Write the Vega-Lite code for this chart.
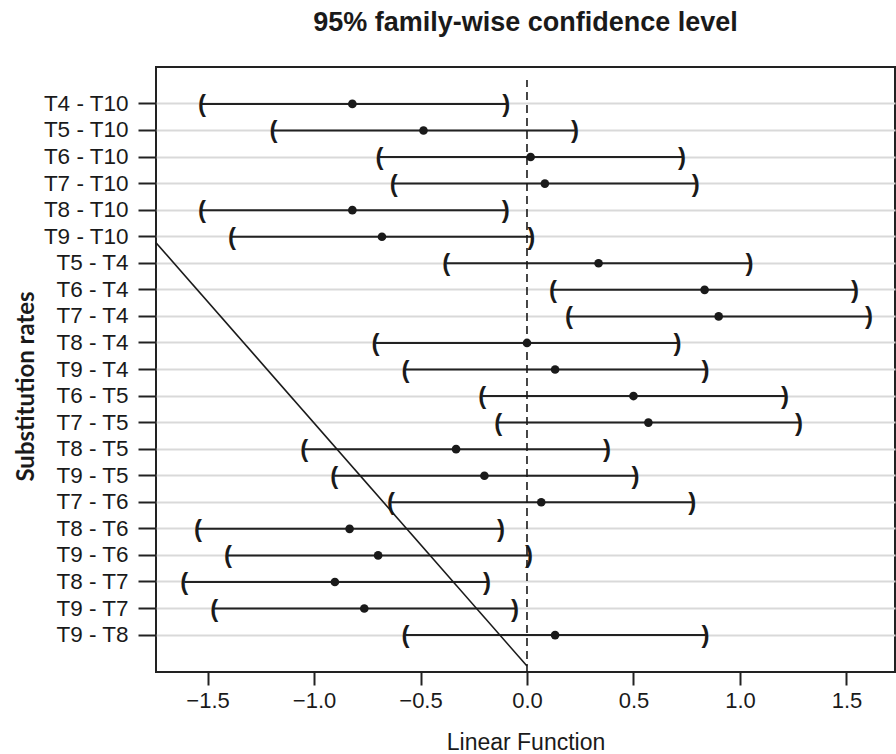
{
  "$schema": "https://vega.github.io/schema/vega-lite/v6.json",
  "width": 739,
  "height": 605,
  "autosize": "none",
  "padding": {"left": 156, "top": 67, "right": 1, "bottom": 82},
  "background": "white",
  "title": {
    "text": "95% family-wise confidence level",
    "font": "Liberation Sans",
    "fontSize": 27,
    "fontWeight": "bold",
    "color": "#1a1a1a",
    "anchor": "middle",
    "offset": 30
  },
  "config": {
    "view": {"stroke": "#222222", "strokeWidth": 2},
    "axis": {"labelFont": "Liberation Sans", "titleFont": "Liberation Sans", "labelColor": "#1a1a1a", "titleColor": "#1a1a1a", "tickColor": "#222222", "domain": false}
  },
  "datasets": {
    "tukey": [
      {"comp": "T4 - T10", "lwr": -1.526, "diff": -0.82, "upr": -0.097},
      {"comp": "T5 - T10", "lwr": -1.19, "diff": -0.486, "upr": 0.225},
      {"comp": "T6 - T10", "lwr": -0.692, "diff": 0.017, "upr": 0.728},
      {"comp": "T7 - T10", "lwr": -0.626, "diff": 0.084, "upr": 0.792},
      {"comp": "T8 - T10", "lwr": -1.526, "diff": -0.82, "upr": -0.1},
      {"comp": "T9 - T10", "lwr": -1.385, "diff": -0.681, "upr": 0.02},
      {"comp": "T5 - T4", "lwr": -0.379, "diff": 0.336, "upr": 1.045},
      {"comp": "T6 - T4", "lwr": 0.122, "diff": 0.834, "upr": 1.54},
      {"comp": "T7 - T4", "lwr": 0.197, "diff": 0.9, "upr": 1.606},
      {"comp": "T8 - T4", "lwr": -0.711, "diff": 0.0, "upr": 0.707},
      {"comp": "T9 - T4", "lwr": -0.571, "diff": 0.132, "upr": 0.838},
      {"comp": "T6 - T5", "lwr": -0.21, "diff": 0.5, "upr": 1.211},
      {"comp": "T7 - T5", "lwr": -0.135, "diff": 0.57, "upr": 1.277},
      {"comp": "T8 - T5", "lwr": -1.046, "diff": -0.333, "upr": 0.376},
      {"comp": "T9 - T5", "lwr": -0.905, "diff": -0.2, "upr": 0.51},
      {"comp": "T7 - T6", "lwr": -0.638, "diff": 0.067, "upr": 0.776},
      {"comp": "T8 - T6", "lwr": -1.545, "diff": -0.833, "upr": -0.122},
      {"comp": "T9 - T6", "lwr": -1.404, "diff": -0.699, "upr": 0.009},
      {"comp": "T8 - T7", "lwr": -1.609, "diff": -0.902, "upr": -0.188},
      {"comp": "T9 - T7", "lwr": -1.469, "diff": -0.764, "upr": -0.056},
      {"comp": "T9 - T8", "lwr": -0.571, "diff": 0.132, "upr": 0.838}
    ],
    "diag": [
      {"x": -1.742, "y": 0.7096},
      {"x": 0.0, "y": 0.0099}
    ],
    "zero": [
      {"x": 0.0, "y": 0.0, "y2": 0.9785}
    ]
  },
  "layer": [
    {
      "data": {"name": "tukey"},
      "encoding": {
        "y": {
          "field": "comp",
          "type": "ordinal",
          "sort": null,
          "scale": {"type": "band", "paddingInner": 0, "paddingOuter": 0.89},
          "axis": {
            "title": "Substitution rates",
            "titleFont": "Lato",
            "titleFontWeight": "bold",
            "titleFontSize": 24,
            "titleX": -123,
            "titleY": 319,
            "titleBaseline": "alphabetic",
            "labelFontSize": 22.5,
            "labelPadding": 10,
            "tickSize": 18,
            "tickWidth": 2,
            "bandPosition": 0.5,
            "grid": true,
            "gridColor": "#d9d9d9",
            "gridWidth": 2
          }
        }
      },
      "layer": [
        {
          "mark": {"type": "rule", "color": "#222222", "strokeWidth": 2},
          "encoding": {
            "x": {
              "field": "lwr",
              "type": "quantitative",
              "scale": {"domain": [-1.742, 1.728], "nice": false, "zero": false},
              "axis": {
                "title": "Linear Function",
                "values": [-1.5, -1, -0.5, 0, 0.5, 1, 1.5],
                "format": ".1f",
                "labelFontSize": 22,
                "labelPadding": 5,
                "tickSize": 13,
                "tickWidth": 2,
                "grid": false,
                "titleFontSize": 23,
                "titleFontWeight": "normal",
                "titleBaseline": "alphabetic",
                "titleY": 77
              }
            },
            "x2": {"field": "upr"}
          }
        },
        {
          "mark": {"type": "point", "filled": true, "size": 75, "color": "#1a1a1a", "opacity": 1},
          "encoding": {"x": {"field": "diff", "type": "quantitative"}}
        },
        {
          "mark": {"type": "text", "text": "(", "font": "Liberation Sans", "fontSize": 24, "fontWeight": "bold", "align": "center", "baseline": "middle", "color": "#1a1a1a", "dy": 1},
          "encoding": {"x": {"field": "lwr", "type": "quantitative"}}
        },
        {
          "mark": {"type": "text", "text": ")", "font": "Liberation Sans", "fontSize": 24, "fontWeight": "bold", "align": "center", "baseline": "middle", "color": "#1a1a1a", "dy": 1},
          "encoding": {"x": {"field": "upr", "type": "quantitative"}}
        }
      ]
    },
    {
      "layer": [
        {
          "data": {"name": "diag"},
          "mark": {"type": "line", "color": "#1a1a1a", "strokeWidth": 1.6},
          "encoding": {
            "x": {"field": "x", "type": "quantitative"},
            "y": {"field": "y", "type": "quantitative", "scale": {"domain": [0, 1], "nice": false}, "axis": null}
          }
        },
        {
          "data": {"name": "zero"},
          "mark": {"type": "rule", "color": "#1a1a1a", "strokeWidth": 1.6, "strokeDash": [8, 5]},
          "encoding": {
            "x": {"field": "x", "type": "quantitative"},
            "y": {"field": "y", "type": "quantitative"},
            "y2": {"field": "y2"}
          }
        }
      ]
    }
  ],
  "resolve": {"scale": {"y": "independent"}, "axis": {"y": "independent"}}
}
